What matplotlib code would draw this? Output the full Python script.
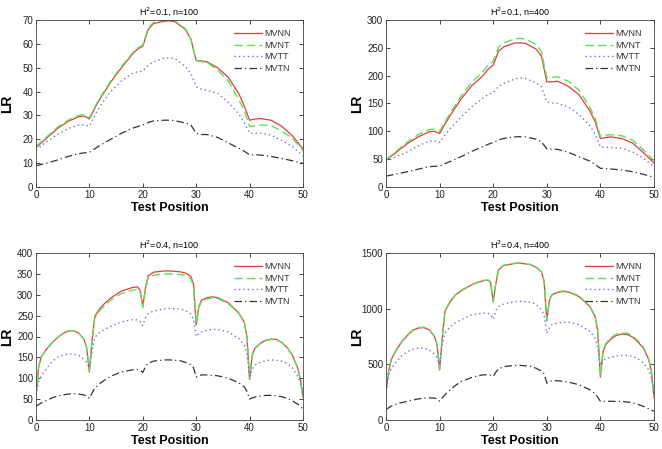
import matplotlib
matplotlib.use("Agg")
import matplotlib.pyplot as plt

plt.rcParams['font.family'] = ['Liberation Sans', 'DejaVu Sans']

# test positions (cM) used for reading the curves
pos_top = [0, 2, 4, 6, 8, 9, 10, 11, 12, 14, 16, 18, 19, 20, 21, 22, 24, 25, 26, 28,
           29, 30, 31, 32, 34, 36, 38, 39, 40, 41, 42, 44, 46, 48, 50]
pos_bot = [0, 0.5, 1, 2, 3, 4, 5, 6, 7, 8, 9, 9.5, 10, 10.5, 11, 12, 13, 14, 16, 18,
           19, 19.5, 20, 20.5, 21, 22, 24, 25, 27, 28, 29, 29.5, 30, 30.5, 31, 32, 33, 34, 36, 38,
           39, 39.5, 40, 40.5, 41, 42, 43, 44, 45, 46, 47, 48, 49, 49.5, 50]

# H2=0.1, n=100
tl_mvnn = [16.5, 20.5, 24.5, 27.5, 29.5, 29.8, 28.5, 33, 37, 44, 50, 55.5, 57.8, 59, 66, 68.5, 69.5, 69.6, 69.3, 66,
           62, 53, 52.8, 52.5, 50, 46, 39, 34, 28, 28.5, 28.7, 28, 25.5, 21.5, 16]
tl_mvnt = [17, 21, 25, 28, 30, 30.3, 29, 33.5, 37.5, 44.5, 50.5, 56, 58.3, 59.5, 66.5, 69, 70, 70, 69.7, 66.3,
           62, 53, 52.5, 52.3, 49, 44.5, 36.5, 32, 25.3, 25.6, 26, 25.8, 23.5, 20.5, 15]
tl_mvtt = [15.5, 19, 22, 24.5, 26, 26, 25.5, 30, 34, 40, 44.5, 47.5, 48.3, 48.6, 51, 52.5, 54, 54.2, 53.8, 50.5,
           47.5, 42, 41, 40.6, 39.3, 35.5, 30.5, 27, 22.6, 22.5, 22.6, 21.8, 19.5, 17, 13]
tl_mvtn = [8.9, 10, 11.3, 12.8, 14, 14.3, 14.5, 16, 17.5, 20, 22.5, 24.6, 25.3, 26, 27, 27.7, 28, 28, 27.8, 26.8,
           26, 22.5, 22, 22, 20.8, 18.5, 16.2, 15, 13.5, 13.5, 13.4, 12.8, 12, 11, 9.9]

# H2=0.1, n=400
tr_mvnn = [48, 63, 78, 90, 99, 100, 96, 113, 129, 158, 182, 199, 211, 219, 244, 252, 258.5, 259, 258, 248,
           235, 189, 189, 190, 181, 166, 137, 118, 87, 89, 90, 87, 79, 62, 43]
tr_mvnt = [49, 65, 81, 94, 103, 104, 100, 117, 133, 163, 188, 206, 218, 226, 251, 259, 266, 267, 266, 256,
           243, 196, 197, 198, 190, 174, 144, 124, 91, 93, 94, 92, 84, 67, 47]
tr_mvtt = [45.5, 55, 63, 74, 82, 83, 80, 93, 105, 126, 144, 159, 166, 170, 181, 186, 194, 196, 195, 187,
           180, 153, 151, 150, 144, 130, 111, 95, 72, 71, 71, 69.5, 63, 52, 36.5]
tr_mvtn = [19.5, 23.5, 27.5, 32, 36.5, 37.2, 37.7, 42, 46, 54.5, 64, 72.4, 76.5, 80, 84.5, 87.5, 90, 90.4, 90, 86,
           81.4, 68.5, 68, 67.7, 62.3, 54.4, 46.7, 40.5, 33.6, 33, 32.3, 30.5, 27.5, 22.8, 17.4]

# H2=0.4, n=100
bl_mvnn = [60, 128, 152, 170, 185, 197, 207, 213, 214, 208, 193, 172, 115, 190, 248, 268, 281, 292, 309, 317,
           319, 311, 272, 316, 345, 354, 357, 357, 355, 352, 344, 325, 228, 272, 287, 293, 295, 293, 281, 256,
           234, 200, 97, 156, 172, 184, 191, 194, 193, 186, 174, 155, 125, 98, 55]
bl_mvnt = [60, 128, 152, 170, 185, 197, 207, 213, 214, 208, 193, 172, 118, 188, 244, 263, 276, 287, 303, 311,
           313, 306, 270, 312, 340, 347, 350, 350, 349, 346, 339, 320, 230, 270, 285, 290, 292, 291, 279, 255,
           233, 200, 100, 155, 171, 183, 190, 193, 192, 186, 174, 155, 125, 98, 55]
bl_mvtt = [60, 92, 105, 124, 140, 150, 155, 158, 158, 155, 145, 138, 125, 165, 198, 211, 218, 224, 235, 240,
           240, 236, 226, 245, 255, 261, 266, 267, 266, 262, 254, 240, 200, 207, 211, 215, 217, 217, 211, 195,
           180, 160, 105, 122, 132, 138, 142, 144, 143, 141, 136, 125, 105, 90, 60]
bl_mvtn = [33, 37, 41, 47, 53, 57, 60, 62, 63, 62, 60, 57, 52, 65, 76, 88, 97, 105, 115, 120,
           121, 119, 114, 128, 136, 141, 144, 144, 142, 138, 133, 125, 103, 106, 108, 108, 107, 106, 100, 89,
           79, 69, 50, 53, 55, 57, 59, 59, 58, 56, 52, 46, 38, 33, 26]

# H2=0.4, n=400
br_mvnn = [250, 440, 545, 635, 705, 760, 805, 826, 830, 812, 755, 680, 450, 740, 975, 1065, 1125, 1160, 1215, 1250,
           1257, 1238, 1060, 1230, 1350, 1388, 1406, 1409, 1395, 1372, 1330, 1245, 890, 1080, 1125, 1146, 1155, 1150, 1110, 1020,
           930, 800, 385, 615, 677, 730, 760, 772, 768, 745, 700, 647, 545, 440, 200]
br_mvnt = [255, 445, 550, 640, 710, 765, 810, 830, 834, 815, 758, 684, 460, 745, 980, 1070, 1128, 1164, 1218, 1252,
           1259, 1240, 1068, 1233, 1352, 1390, 1408, 1410, 1397, 1374, 1332, 1248, 900, 1085, 1130, 1150, 1160, 1155, 1115, 1025,
           936, 808, 395, 625, 687, 742, 772, 782, 780, 757, 712, 657, 552, 448, 210]
br_mvtt = [250, 400, 465, 527, 580, 615, 635, 645, 646, 632, 595, 560, 505, 690, 780, 840, 875, 900, 945, 960,
           960, 945, 905, 985, 1020, 1042, 1064, 1066, 1058, 1040, 992, 940, 780, 830, 860, 870, 878, 880, 856, 797,
           737, 650, 490, 530, 550, 565, 575, 580, 580, 572, 550, 512, 452, 390, 250]
br_mvtn = [93, 110, 125, 144, 158, 168, 180, 189, 195, 198, 197, 190, 170, 200, 227, 272, 312, 345, 383, 405,
           407, 403, 392, 430, 460, 480, 490, 491, 482, 465, 440, 415, 332, 345, 352, 353, 348, 341, 317, 272,
           236, 205, 168, 168, 168, 168, 168, 167, 162, 155, 140, 123, 100, 90, 78]

titles = ['H$^2$=0.1, n=100', 'H$^2$=0.1, n=400', 'H$^2$=0.4, n=100', 'H$^2$=0.4, n=400']
ylims = [70, 300, 400, 1500]
yticks = [list(range(0, 71, 10)), list(range(0, 301, 50)), list(range(0, 401, 50)), [0, 500, 1000, 1500]]
labels = ['MVNN', 'MVNT', 'MVTT', 'MVTN']

panels = [
    (pos_top, [tl_mvnn, tl_mvnt, tl_mvtt, tl_mvtn]),
    (pos_top, [tr_mvnn, tr_mvnt, tr_mvtt, tr_mvtn]),
    (pos_bot, [bl_mvnn, bl_mvnt, bl_mvtt, bl_mvtn]),
    (pos_bot, [br_mvnn, br_mvnt, br_mvtt, br_mvtn]),
]

styles = [
    dict(color='#e8393a', linestyle='-', lw=0.9),
    dict(color='#55e655', linestyle=(0, (6, 3)), lw=1.0),
    dict(color='#6f6fe8', linestyle=(0, (1, 2.2)), lw=1.0),
    dict(color='#333333', linestyle=(0, (6, 2.5, 1, 2.5)), lw=0.9),
]

rects = [
    [36 / 662, 1 - 187 / 449, 267 / 662, 167 / 449],
    [386 / 662, 1 - 187 / 449, 268 / 662, 167 / 449],
    [36 / 662, 1 - 420 / 449, 267 / 662, 167 / 449],
    [386 / 662, 1 - 420 / 449, 268 / 662, 167 / 449],
]

fig = plt.figure(figsize=(6.62, 4.49), dpi=100)

for i, (x, series) in enumerate(panels):
    ax = fig.add_axes(rects[i])
    for ys, st, lab in zip(series, styles, labels):
        ax.plot(x, ys, label=lab, **st)
    ax.set_xlim(0, 50)
    ax.set_ylim(0, ylims[i])
    ax.set_xticks(range(0, 51, 10))
    ax.set_yticks(yticks[i])
    ax.tick_params(direction='in', top=True, right=True, labelsize=7, length=3,
                   width=0.6, pad=2, colors='#222222')
    for sp in ax.spines.values():
        sp.set_linewidth(0.6)
        sp.set_color('#444444')
    ax.set_title(titles[i], fontsize=6.5, pad=4)
    ax.set_xlabel('Test Position', fontsize=9, fontweight='bold', labelpad=1.5)
    ax.set_ylabel('LR', fontsize=10, fontweight='bold')
    ax.yaxis.set_label_coords(-0.083, 0.5)
    leg = ax.legend(loc='upper right', frameon=False, fontsize=6.5, handlelength=3.1,
                    labelspacing=0.3, handletextpad=0.3, borderaxespad=0.5,
                    bbox_to_anchor=(0.985, 0.995))
    for t in leg.get_texts():
        t.set_color('#333333')

fig.savefig('out.png', dpi=100)
